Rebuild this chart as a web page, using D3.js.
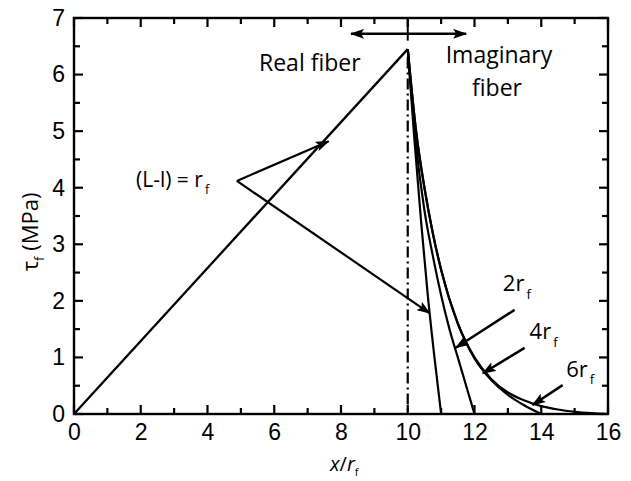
<!DOCTYPE html>
<html lang="en">
<head>
<meta charset="UTF-8">
<title>Shear stress along fiber</title>
<style>
  body, html { margin: 0; padding: 0; background: #fff; }
  svg { display: block; font-family: "Open Sans", "Noto Sans", sans-serif; }
  .axis path, .axis line { display: none; }
  .axis text { font-size: 23px; fill: #000; }
</style>
</head>
<body>
<svg id="svg" width="631" height="481"></svg>
<script src="https://d3js.org/d3.v7.min.js"></script>
<script>
// values (x in units of r_f, tau in MPa)
const xMajor = [0, 2, 4, 6, 8, 10, 12, 14, 16]
const xMinor = [1, 3, 5, 7, 9, 11, 13, 15]
const yMajor = [0, 1, 2, 3, 4, 5, 6, 7]
const yMinor = [0.5, 1.5, 2.5, 3.5, 4.5, 5.5, 6.5]

const realX = [0, 10]
const realY = [0, 6.45]

const rf1X = [10, 10.2, 10.4, 10.6, 10.8, 11]
const rf1Y = [6.45, 4.85, 3.4, 2.1, 1.0, 0]

const rf2X = [10, 10.25, 10.5, 10.75, 11, 11.25, 11.5, 11.75, 12]
const rf2Y = [6.45, 4.75, 3.6, 2.8, 2.1, 1.5, 1.0, 0.5, 0]

const rf4X = [10, 10.25, 10.5, 10.75, 11, 11.5, 12, 12.5, 13, 13.5, 14]
const rf4Y = [6.45, 5.0, 4.0, 3.2, 2.55, 1.6, 0.98, 0.6, 0.34, 0.15, 0]

const rf6X = [10, 10.25, 10.5, 10.75, 11, 11.5, 12, 12.5, 13, 13.5, 14, 14.5, 15, 15.5, 16]
const rf6Y = [6.45, 5.0, 4.0, 3.2, 2.55, 1.6, 1.0, 0.62, 0.38, 0.24, 0.14, 0.08, 0.04, 0.015, 0]

// annotation arrows in data units
const noteVertex = [4.88, 4.12]
const noteTips = [[7.63, 4.82], [10.66, 1.78]]
const labelArrows = [
  { text: '2r', pos: [12.85, 2.17], arrow: [13.2, 1.84, 11.44, 1.17] },
  { text: '4r', pos: [13.65, 1.32], arrow: [13.5, 1.17, 12.25, 0.72] },
  { text: '6r', pos: [14.75, 0.66], arrow: [14.64, 0.51, 13.74, 0.16] }
]

const svg = d3.select('#svg')
const x = d3.scaleLinear().domain([0, 16]).range([74, 608])
const y = d3.scaleLinear().domain([0, 7]).range([414, 18])

svg.append('defs').append('marker')
  .attr('id', 'head')
  .attr('viewBox', '0 0 14 10')
  .attr('refX', 13).attr('refY', 5)
  .attr('markerWidth', 14).attr('markerHeight', 10)
  .attr('markerUnits', 'userSpaceOnUse')
  .attr('orient', 'auto-start-reverse')
  .append('path').attr('d', 'M0,0 L14,5 L0,10 L3,5 Z').attr('fill', '#000')

// tick labels via d3 axes
svg.append('g').attr('class', 'axis').attr('transform', 'translate(0,414)')
  .call(d3.axisBottom(x).tickValues(xMajor).tickSize(0).tickPadding(10).tickFormat(d3.format('d')))
svg.append('g').attr('class', 'axis').attr('transform', 'translate(74,0)')
  .call(d3.axisLeft(y).tickValues(yMajor).tickSize(0).tickPadding(9).tickFormat(d3.format('d')))

// inward tick marks on all four sides
const tickG = svg.append('g').attr('stroke', '#000').attr('stroke-width', 2.2)
function xTicks(vals, len) {
  vals.forEach(v => {
    tickG.append('line').attr('x1', x(v)).attr('x2', x(v)).attr('y1', y(0)).attr('y2', y(0) - len)
    tickG.append('line').attr('x1', x(v)).attr('x2', x(v)).attr('y1', y(7)).attr('y2', y(7) + len)
  })
}
function yTicks(vals, len) {
  vals.forEach(v => {
    tickG.append('line').attr('y1', y(v)).attr('y2', y(v)).attr('x1', x(0)).attr('x2', x(0) + len)
    tickG.append('line').attr('y1', y(v)).attr('y2', y(v)).attr('x1', x(16)).attr('x2', x(16) - len)
  })
}
xTicks(xMajor, 9)
xTicks(xMinor, 6)
yTicks(yMajor, 9)
yTicks(yMinor, 6)

svg.append('rect')
  .attr('x', 74).attr('y', 18).attr('width', 534).attr('height', 396)
  .attr('fill', 'none').attr('stroke', '#000').attr('stroke-width', 2.4)

// curves
const line = d3.line().x(d => x(d[0])).y(d => y(d[1]))
const smooth = d3.line().x(d => x(d[0])).y(d => y(d[1])).curve(d3.curveMonotoneX)
const zip = (a, b) => a.map((v, i) => [v, b[i]])

svg.append('path').attr('d', line(zip(realX, realY)))
  .attr('fill', 'none').attr('stroke', '#000').attr('stroke-width', 2.3)
;[[rf1X, rf1Y], [rf2X, rf2Y], [rf4X, rf4Y], [rf6X, rf6Y]].forEach(([cx, cy]) => {
  svg.append('path').attr('d', smooth(zip(cx, cy)))
    .attr('fill', 'none').attr('stroke', '#000').attr('stroke-width', 2.2)
})

// dash-dot at x = 10 and the split marker at the top
svg.append('line')
  .attr('x1', x(10)).attr('x2', x(10)).attr('y1', y(6.3)).attr('y2', y(0))
  .attr('stroke', '#000').attr('stroke-width', 2.2).attr('stroke-dasharray', '11,4,2,4')
svg.append('line')
  .attr('x1', x(10)).attr('x2', x(10)).attr('y1', y(7)).attr('y2', y(6.6))
  .attr('stroke', '#000').attr('stroke-width', 2)
svg.append('line')
  .attr('x1', x(8.3)).attr('x2', x(11.75)).attr('y1', y(6.72)).attr('y2', y(6.72))
  .attr('stroke', '#000').attr('stroke-width', 2.5)
  .attr('marker-start', 'url(#head)').attr('marker-end', 'url(#head)')

// (L-l) = r_f annotation
noteTips.forEach(t => {
  svg.append('line')
    .attr('x1', x(noteVertex[0])).attr('y1', y(noteVertex[1]))
    .attr('x2', x(t[0])).attr('y2', y(t[1]))
    .attr('stroke', '#000').attr('stroke-width', 2.2).attr('marker-end', 'url(#head)')
})

function subText(xp, yp, main, size) {
  const t = svg.append('text').attr('x', xp).attr('y', yp)
    .attr('font-size', size).attr('fill', '#000')
  t.append('tspan').text(main)
  t.append('tspan').attr('font-size', size * 0.6).attr('dy', size * 0.35).attr('dx', 2).text('f')
  return t
}
subText(136, 187, '(L-l) = r', 21)

labelArrows.forEach(a => {
  svg.append('line')
    .attr('x1', x(a.arrow[0])).attr('y1', y(a.arrow[1]))
    .attr('x2', x(a.arrow[2])).attr('y2', y(a.arrow[3]))
    .attr('stroke', '#000').attr('stroke-width', 2.5).attr('marker-end', 'url(#head)')
  subText(x(a.pos[0]), y(a.pos[1]), a.text, 22)
})

svg.append('text').attr('x', 259).attr('y', 71).attr('font-size', 23).attr('fill', '#000')
  .text('Real fiber')
svg.append('text').attr('x', 499).attr('y', 63).attr('font-size', 23).attr('fill', '#000')
  .attr('text-anchor', 'middle').text('Imaginary')
svg.append('text').attr('x', 497).attr('y', 96).attr('font-size', 23).attr('fill', '#000')
  .attr('text-anchor', 'middle').text('fiber')

// axis titles
const xt = svg.append('text').attr('x', 330).attr('y', 471).attr('font-size', 20).attr('fill', '#000')
xt.append('tspan').attr('font-style', 'italic').text('x')
xt.append('tspan').text('/')
xt.append('tspan').attr('font-style', 'italic').text('r')
xt.append('tspan').attr('font-size', 11).attr('dy', 5).text('f')

const yt = svg.append('text').attr('transform', 'translate(38,232) rotate(-90)')
  .attr('text-anchor', 'middle').attr('font-size', 22).attr('fill', '#000')
yt.append('tspan').text('τ')
yt.append('tspan').attr('font-size', 13).attr('dy', 6).text('f')
yt.append('tspan').attr('dy', -6).text(' (MPa)')
</script>
</body>
</html>
